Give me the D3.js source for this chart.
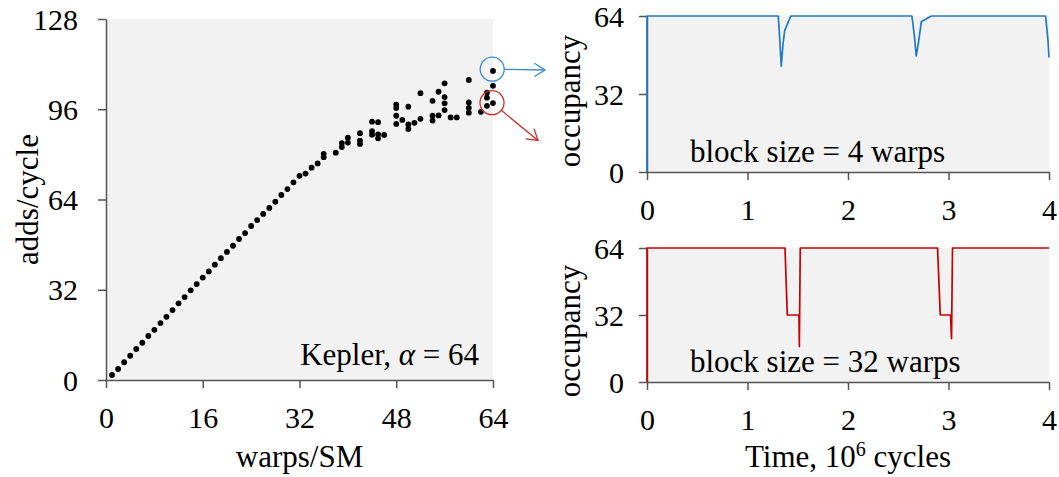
<!DOCTYPE html>
<html>
<head>
<meta charset="utf-8">
<script src="https://cdn.jsdelivr.net/npm/d3@7/dist/d3.min.js"></script>
<style>
  html, body { margin: 0; padding: 0; background: #fff; }
  svg { display: block; }
  text { font-family: "Liberation Serif", "Times New Roman", serif; fill: #000; }
</style>
</head>
<body>
<svg id="chart" width="1059" height="477"></svg>
<script>
// Throughput vs. resident warps (Kepler)
const warps = [1,2,3,4,5,6,7,8,9,10,11,12,13,14,15,16,17,18,19,20,21,22,23,24,25,26,27,28,29,30,31,32,33,34,35,36,36,38,39,39,40,40,42,42,42,44,44,44,45,45,45,46,48,48,48,48,49,50,50,50,51,52,52,54,54,54,55,55,56,56,56,56,57,58,60,60,60,60,62,63,63,63,64,64,64];
const adds  = [1.8,3.9,6.3,8.6,11.0,13.2,15.6,17.8,20.2,22.4,24.8,27.2,29.4,31.8,34.0,36.3,38.5,40.9,43.2,45.4,47.6,50.0,52.1,54.6,56.7,58.9,61.0,63.2,65.6,67.7,70.1,72.4,73.2,75.3,76.8,79.0,80.2,80.6,82.6,84.0,84.2,85.9,87.5,84.9,83.7,91.6,88.2,87.0,91.4,87.1,85.7,86.9,97.6,96.4,93.7,90.8,92.2,96.9,90.6,89.0,91.2,101.7,92.6,99.0,93.7,92.0,102.2,93.8,105.2,100.3,98.1,95.7,93.1,93.1,106.4,98.4,96.5,94.8,95.1,101.9,100.1,97.2,109.6,104.3,98.2];
const warpTicks = [0,16,32,48,64];
const addTicks  = [0,32,64,96,128];

// Occupancy traces over time (10^6 cycles)
const blueTime = [0,0,1.306,1.32,1.336,1.352,1.37,1.40,1.43,2.636,2.66,2.679,2.70,2.73,2.76,2.83,3.966,3.99,4.0];
const blueOcc  = [0,64,64,55,43.4,52,58,61,64,64,56,47.6,52.8,61.7,62.4,64,64,54,47];
const redTime  = [0,0,1.373,1.396,1.512,1.516,1.525,2.891,2.918,3.02,3.03,3.04,4];
const redOcc   = [0,64,64,32,32,17,64,64,32,32,20.7,64,64];
const timeTicks = [0,1,2,3,4];
const occTicks  = [0,32,64];

const svg = d3.select("#chart");
const AXIS = "#555";
const BG = "#f2f2f2";
const BLUE = "#1f78c8", RED = "#c80000";
const FS = 30;
const fmt = d3.format("d");

function styleAxis(g) {
  g.select(".domain").attr("stroke", AXIS).attr("stroke-width", 1.5);
  g.selectAll(".tick line").attr("stroke", AXIS).attr("stroke-width", 1.5);
  g.selectAll(".tick text").attr("font-size", FS).attr("fill", "#000")
    .attr("font-family", '"Liberation Serif", "Times New Roman", serif');
}
function bottomAxis(g, x, ticks) {
  g.call(d3.axisBottom(x).tickValues(ticks).tickFormat(fmt).tickSize(8).tickSizeOuter(0));
  styleAxis(g);
  g.selectAll(".tick text").attr("dy", null).attr("y", 48);
}
function leftAxis(g, y, ticks, pad) {
  g.call(d3.axisLeft(y).tickValues(ticks).tickFormat(fmt).tickSize(8).tickSizeOuter(0).tickPadding(pad));
  styleAxis(g);
  g.selectAll(".tick text").attr("dy", "0.34em");
}

// ---------- left panel: scatter ----------
const xL = d3.scaleLinear().domain([0, 64]).range([106, 493]);
const yL = d3.scaleLinear().domain([0, 128]).range([380, 19]);

svg.append("rect").attr("x", xL(0)).attr("y", yL(128))
  .attr("width", xL(64) - xL(0)).attr("height", yL(0) - yL(128)).attr("fill", BG);

svg.append("g").selectAll("circle").data(warps).join("circle")
  .attr("cx", d => xL(d)).attr("cy", (d, i) => yL(adds[i])).attr("r", 2.9).attr("fill", "#000");

bottomAxis(svg.append("g").attr("transform", `translate(0,${yL(0)})`), xL, warpTicks);
leftAxis(svg.append("g").attr("transform", `translate(${xL(0)},0)`), yL, addTicks, 20);

svg.append("text").attr("x", (xL(0) + xL(64)) / 2).attr("y", 467)
  .attr("text-anchor", "middle").attr("font-size", 31).text("warps/SM");
svg.append("text").attr("transform", `translate(38,${(yL(0) + yL(128)) / 2}) rotate(-90)`)
  .attr("text-anchor", "middle").attr("font-size", 31).text("adds/cycle");

const kep = svg.append("text").attr("x", 479).attr("y", 365)
  .attr("text-anchor", "end").attr("font-size", 31);
kep.append("tspan").text("Kepler, ");
kep.append("tspan").attr("font-style", "italic").text("α");
kep.append("tspan").text(" = 64");

// callouts linking two points to the traces
function callout(cx, cy, tx, ty, color) {
  const r = 12;
  const dx = tx - cx, dy = ty - cy, len = Math.hypot(dx, dy);
  const ux = dx / len, uy = dy / len;
  svg.append("circle").attr("cx", cx).attr("cy", cy).attr("r", r)
    .attr("fill", "none").attr("stroke", color).attr("stroke-width", 1.3);
  svg.append("line").attr("x1", cx + ux * r).attr("y1", cy + uy * r)
    .attr("x2", tx).attr("y2", ty).attr("stroke", color).attr("stroke-width", 1.3);
  const a = 32 * Math.PI / 180, L = 12.5;
  const rot = (ang) => [ux * Math.cos(ang) - uy * Math.sin(ang), ux * Math.sin(ang) + uy * Math.cos(ang)];
  const [p1x, p1y] = rot(a), [p2x, p2y] = rot(-a);
  svg.append("path")
    .attr("d", `M${tx - p1x * L},${ty - p1y * L}L${tx},${ty}L${tx - p2x * L},${ty - p2y * L}`)
    .attr("fill", "none").attr("stroke", color).attr("stroke-width", 1.3);
}
callout(xL(64) - 0.8, yL(109.6) - 1.7, 545, 70, "#3a8bd6");
callout(xL(64) - 1, yL(98.5) + 0.5, 538, 140.5, "#d22a2a");

// ---------- right panels: occupancy traces ----------
function tracePanel(top, bottom, times, occ, color, label, occLabelY) {
  const x = d3.scaleLinear().domain([0, 4]).range([647, 1049]);
  const y = d3.scaleLinear().domain([0, 64]).range([bottom, top]);
  svg.append("rect").attr("x", x(0)).attr("y", y(64))
    .attr("width", x(4) - x(0)).attr("height", y(0) - y(64)).attr("fill", BG);
  bottomAxis(svg.append("g").attr("transform", `translate(0,${y(0)})`), x, timeTicks);
  leftAxis(svg.append("g").attr("transform", `translate(${x(0)},0)`), y, occTicks, 15);
  const line = d3.line().x((d, i) => x(times[i])).y(d => y(d));
  svg.append("path").datum(occ).attr("d", line)
    .attr("fill", "none").attr("stroke", color).attr("stroke-width", 1.7)
    .attr("stroke-linejoin", "round");
  svg.append("text").attr("x", 690).attr("y", y(0) - 10)
    .attr("font-size", 31).text(label);
  svg.append("text").attr("transform", `translate(580,${occLabelY}) rotate(-90)`)
    .attr("text-anchor", "middle").attr("font-size", 31).text("occupancy");
  return x;
}
tracePanel(16, 172, blueTime, blueOcc, BLUE, "block size = 4 warps", 101);
const xR = tracePanel(248, 382, redTime, redOcc, RED, "block size = 32 warps", 331);

const tl = svg.append("text").attr("x", (xR(0) + xR(4)) / 2).attr("y", 467)
  .attr("text-anchor", "middle").attr("font-size", 31);
tl.append("tspan").text("Time, 10");
tl.append("tspan").attr("font-size", 20).attr("dy", -11).text("6");
tl.append("tspan").attr("dy", 11).text(" cycles");
</script>
</body>
</html>
